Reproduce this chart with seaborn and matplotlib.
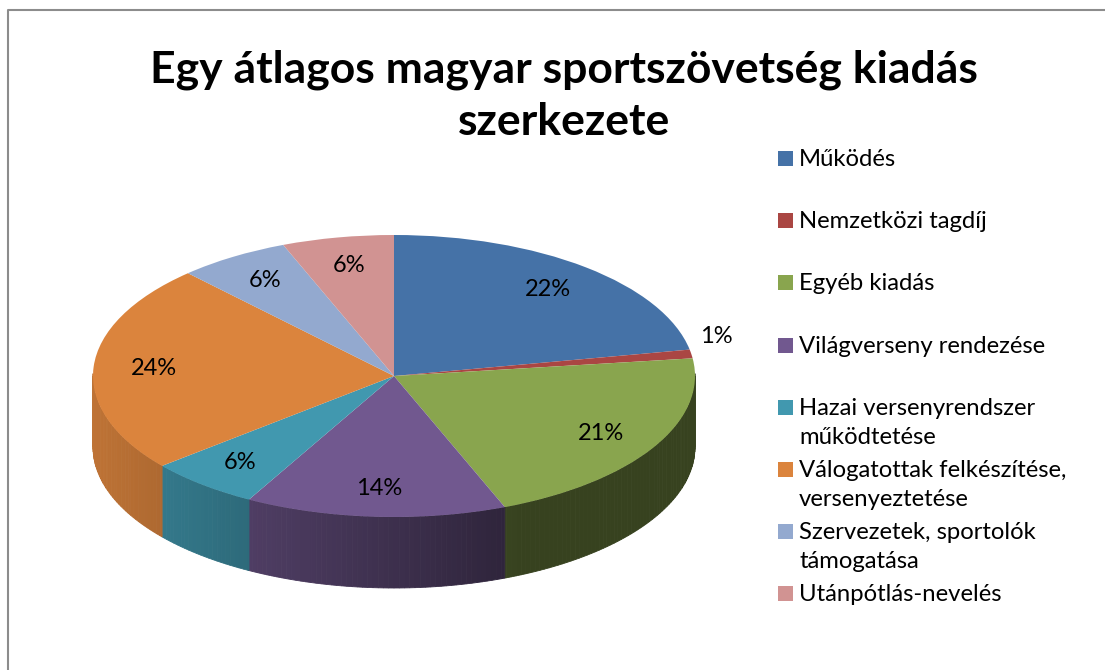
import numpy as np
import seaborn as sns
import matplotlib.pyplot as plt
from matplotlib.patches import Rectangle, Polygon
from matplotlib.colors import to_rgb

categories = ["Működés", "Nemzetközi tagdíj", "Egyéb kiadás", "Világverseny rendezése",
              "Hazai versenyrendszer\nműködtetése", "Válogatottak felkészítése,\nversenyeztetése",
              "Szervezetek, sportolók\ntámogatása", "Utánpótlás-nevelés"]
values = [22, 1, 21, 14, 6, 24, 6, 6]
colors = ["#4572A7", "#AA4643", "#89A54E", "#71588F", "#4198AF", "#DB843D", "#93A9CF", "#D19392"]

sns.set_style("white")
plt.rcParams['font.family'] = ['Lato', 'DejaVu Sans']
plt.rcParams['text.color'] = 'black'

W, H = 1105, 670
fig = plt.figure(figsize=(W / 100, H / 100), dpi=100)

# pie geometry in pixels (centre, radii, depth of the 3d side)
cx, cy = 394, 376
rx, ry = 301, 141
depth = 71

ax = fig.add_axes([0, 0, 1, 1])
wedges, texts, autotexts = ax.pie(values, colors=colors, startangle=90, counterclock=False,
                                  radius=1, autopct="%.0f%%", pctdistance=0.8,
                                  wedgeprops=dict(linewidth=0),
                                  textprops=dict(fontsize=17, color='black'),
                                  normalize=True)
ax.set_aspect('auto')
ax.set_xlim(-cx / rx, (W - cx) / rx)
ax.set_ylim(-(H - cy) / ry, cy / ry)
ax.axis('off')
for w in wedges:
    w.set_zorder(3)
for t in autotexts:
    t.set_zorder(5)

# side walls: front part of each wedge arc, shaded by horizontal position
d = depth / ry
for w, c in zip(wedges, colors):
    a1, a2 = w.theta1, w.theta2
    angs = np.arange(np.floor(a1), np.ceil(a2) + 1, 1.0)
    angs = np.clip(angs, a1, a2)
    base = np.array(to_rgb(c))
    for s, e in zip(angs[:-1], angs[1:]):
        mid = np.deg2rad((s + e) / 2)
        if np.sin(mid) > 0.02:
            continue
        x = np.cos(mid)
        f = np.clip(0.87 - 0.47 * (x + 1) / 1.42, 0.40, 0.9)
        th = np.deg2rad(np.linspace(s, e, 3))
        px = np.cos(th)
        py = np.sin(th)
        pts = np.column_stack([np.r_[px, px[::-1]], np.r_[py, py[::-1] - d]])
        ax.add_patch(Polygon(pts, closed=True, facecolor=base * f, edgecolor=base * f,
                             linewidth=0.6, zorder=1))

# small slice label outside the pie
for w, v, t in zip(wedges, values, autotexts):
    if v < 3:
        m = np.deg2rad((w.theta1 + w.theta2) / 2)
        t.set_position((1.03 * np.cos(m), 1.03 * np.sin(m) + 0.12))
        t.set_ha('left')

# title
fig.text(0.51, 1 - 70 / H, "Egy átlagos magyar sportszövetség kiadás", ha='center', va='center',
         fontsize=32, fontweight='bold')
fig.text(0.51, 1 - 122 / H, "szerkezete", ha='center', va='center', fontsize=32, fontweight='bold')

# legend (first line of every entry on a regular grid)
for i, (lab, c) in enumerate(zip(categories, colors)):
    y = 166 + i * 62.2
    fig.patches.append(Rectangle((778 / W, 1 - y / H), 15 / W, 15 / H, facecolor=c,
                                 edgecolor='none', transform=fig.transFigure, figure=fig))
    for k, line in enumerate(lab.split("\n")):
        fig.text(799 / W, 1 - (y + 29 * k) / H, line, ha='left', va='baseline', fontsize=17.2)

# chart border
fig.add_artist(plt.Line2D([8 / W, 8 / W, 1], [0, 1 - 10 / H, 1 - 10 / H], color='#8c8c8c',
                          linewidth=1.5, transform=fig.transFigure))

fig.savefig("out.png", dpi=100)
